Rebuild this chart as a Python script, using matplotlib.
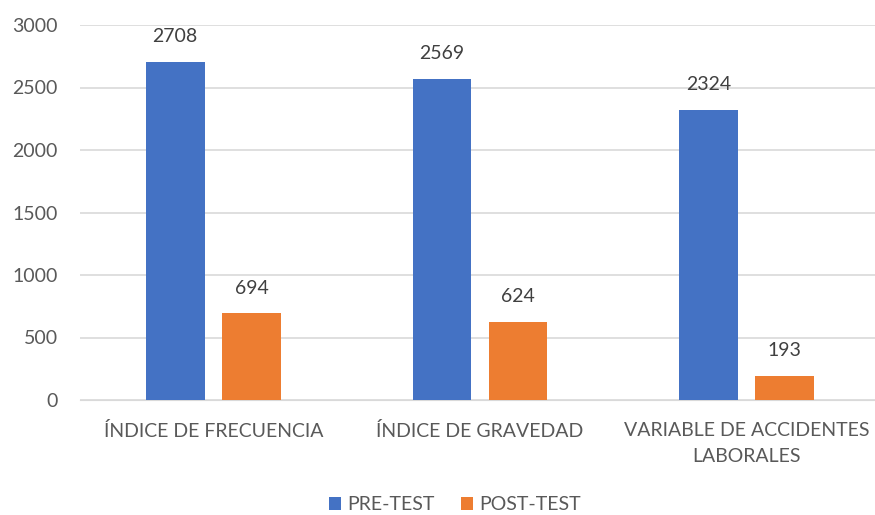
import numpy as np
import matplotlib
matplotlib.use("Agg")
import matplotlib.pyplot as plt

categories = ["ÍNDICE DE FRECUENCIA", "ÍNDICE DE GRAVEDAD", "VARIABLE DE ACCIDENTES\nLABORALES"]
pre_test = [2708, 2569, 2324]
post_test = [694, 624, 193]
series_names = ["PRE-TEST", "POST-TEST"]

plt.rcParams['font.family'] = ['Lato', 'DejaVu Sans']
txt = '#595959'

fig = plt.figure(figsize=(8.75, 5.15), dpi=100)
# axes run a bit past the right edge, like the original export
ax = fig.add_axes([80 / 875, 1 - 400 / 515, 800 / 875, 375 / 515])

x = np.arange(len(categories))
w = 0.22
off = 0.143
b1 = ax.bar(x - off, pre_test, w, color='#4472C4', label=series_names[0], zorder=3)
b2 = ax.bar(x + off, post_test, w, color='#ED7D31', label=series_names[1], zorder=3)

for bars in (b1, b2):
    for r in bars:
        ax.annotate(str(int(r.get_height())), (r.get_x() + r.get_width() / 2, r.get_height()),
                    xytext=(0, 18), textcoords='offset points',
                    ha='center', va='center', fontsize=14, color='#404040')

ax.set_xlim(-0.5, 2.5)
ax.set_ylim(0, 3000)
ax.set_yticks(range(0, 3001, 500))
ax.yaxis.grid(True, color='#D9D9D9', linewidth=1.2, zorder=0)
ax.set_xticks(x)
ax.set_xticklabels(categories, fontsize=14, color=txt, linespacing=1.6)
ax.tick_params(axis='y', labelsize=14, labelcolor=txt, length=0, pad=16)
ax.tick_params(axis='x', length=0, pad=16)
for s in ['top', 'right', 'left']:
    ax.spines[s].set_visible(False)
ax.spines['bottom'].set_color('#D9D9D9')

fig.legend(loc='center', ncol=2, frameon=False, fontsize=14,
           bbox_to_anchor=(0.52, 1 - 505 / 515), handlelength=0.6, handleheight=0.6,
           handletextpad=0.3, columnspacing=1.4, labelcolor=txt)

fig.savefig('out.png', dpi=100)
